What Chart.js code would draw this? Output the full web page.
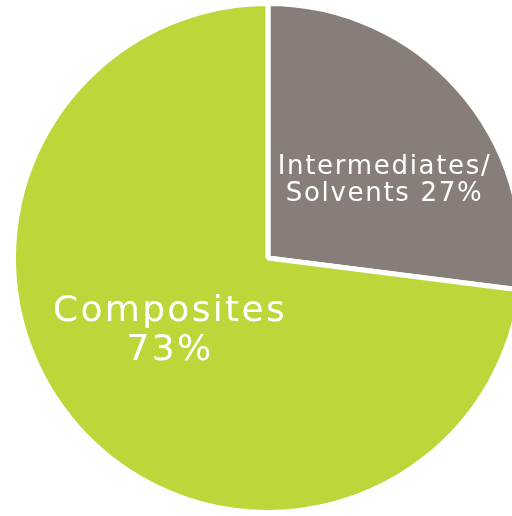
<!DOCTYPE html>
<html>
<head>
<meta charset="utf-8">
<script src="https://cdn.jsdelivr.net/npm/chart.js@4/dist/chart.umd.min.js"></script>
<style>
  html, body { margin: 0; padding: 0; background: #ffffff; overflow: hidden; width: 512px; height: 516px; }
  #wrap { position: absolute; left: 11px; top: 1px; width: 514px; height: 514px; }
</style>
</head>
<body>
<div id="wrap"><canvas id="c"></canvas></div>
<script>
const categories = ["Intermediates/\nSolvents", "Composites"];
const shares = [27, 73];
const labelLines = [["Intermediates/", "Solvents 27%"], ["Composites", "73%"]];
const colors = ["#877E7A", "#BDD73A"];

// label placement: fraction along the slice's angle span, fraction of radius, font size, line height, letter spacing
const labelPlace = [
  { along: 0.58, radius: 0.55, size: 26, lh: 27, ls: 1.7 },
  { along: 0.518, radius: 0.48, size: 36, lh: 39, ls: 2.3 }
];

const sliceLabels = {
  id: 'sliceLabels',
  afterDatasetsDraw(chart) {
    const ctx = chart.ctx;
    const meta = chart.getDatasetMeta(0);
    meta.data.forEach((arc, i) => {
      const p = arc.getProps(['x', 'y', 'startAngle', 'endAngle', 'outerRadius'], true);
      const cfg = labelPlace[i];
      const a = p.startAngle + (p.endAngle - p.startAngle) * cfg.along;
      const r = p.outerRadius * cfg.radius;
      const cx = p.x + Math.cos(a) * r;
      const cy = p.y + Math.sin(a) * r;
      const lines = labelLines[i];
      ctx.save();
      ctx.fillStyle = '#ffffff';
      ctx.font = cfg.size + 'px "DejaVu Sans"';
      if ('letterSpacing' in ctx) ctx.letterSpacing = cfg.ls + 'px';
      ctx.textAlign = 'center';
      ctx.textBaseline = 'middle';
      const total = (lines.length - 1) * cfg.lh;
      lines.forEach((t, k) => {
        ctx.fillText(t, cx, cy - total / 2 + k * cfg.lh);
      });
      ctx.restore();
    });
  }
};

new Chart(document.getElementById('c'), {
  type: 'pie',
  data: {
    labels: categories,
    datasets: [{
      data: shares,
      backgroundColor: colors,
      borderColor: '#ffffff',
      borderWidth: 5
    }]
  },
  options: {
    responsive: true,
    maintainAspectRatio: false,
    animation: false,
    layout: { padding: 0 },
    plugins: { legend: { display: false }, tooltip: { enabled: false } }
  },
  plugins: [sliceLabels]
});
</script>
</body>
</html>
